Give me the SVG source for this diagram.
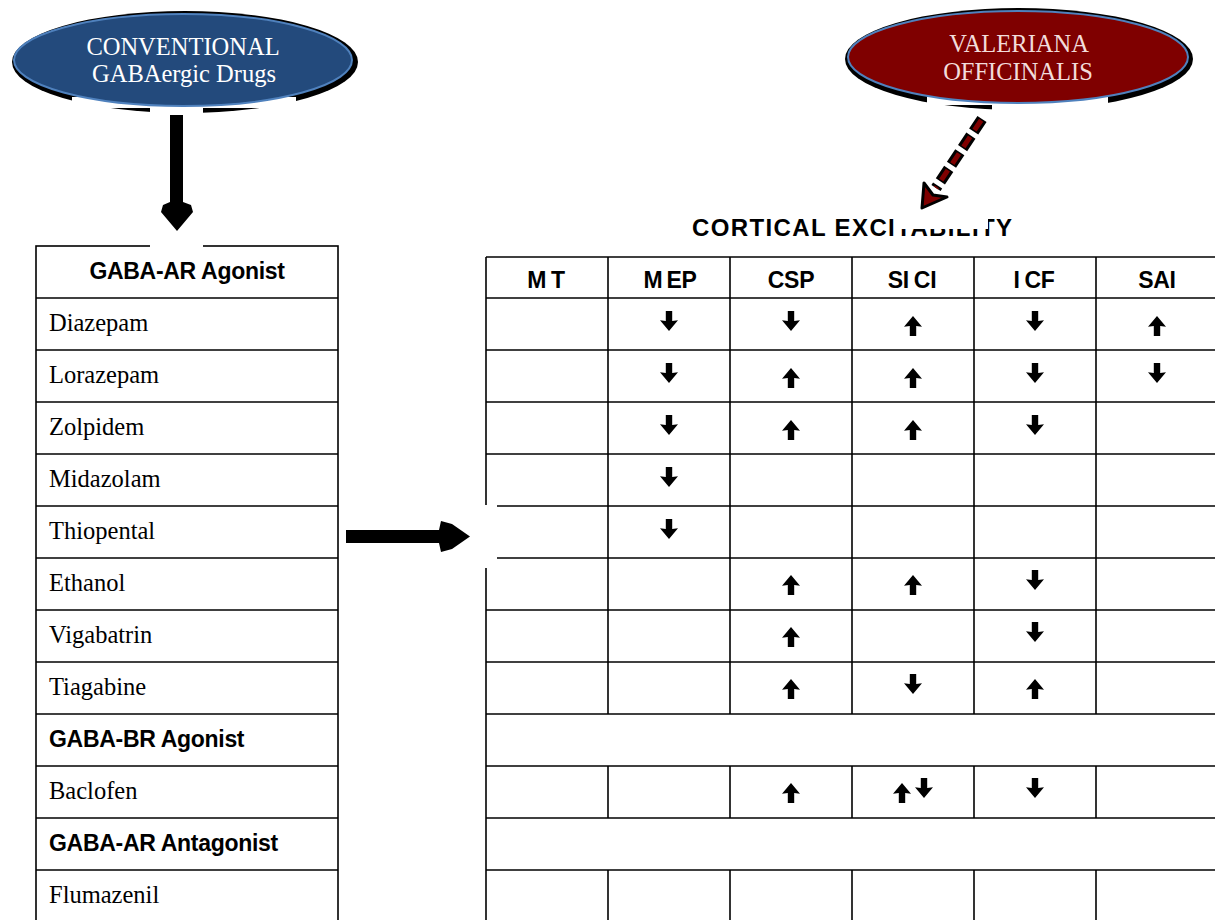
<svg xmlns="http://www.w3.org/2000/svg" xmlns:xlink="http://www.w3.org/1999/xlink" width="1215" height="920" viewBox="0 0 1215 920">
<style>
.serif{font-family:"Liberation Serif","Times New Roman",serif;font-size:24.5px;fill:#000}
.bold{font-family:"Liberation Sans",Arial,sans-serif;font-weight:bold;font-size:23px;letter-spacing:-0.3px;fill:#000}
.hdr{font-family:"Liberation Sans",Arial,sans-serif;font-weight:bold;font-size:23px;letter-spacing:-0.3px;fill:#000;text-anchor:middle}
.grid{stroke:#000;stroke-width:1.6;fill:none}
.etext{font-family:"Liberation Serif","Times New Roman",serif;font-size:24.5px;text-anchor:middle}
.ar{fill:#000}
</style>
<defs>
<path id="up" d="M-3.2,10 L3.2,10 L3.2,0 L9,0.8 L0,-10 L-9,0.8 L-3.2,0 Z"/>
<path id="dn" d="M-3.2,-10 L3.2,-10 L3.2,0 L9,-0.8 L0,10 L-9,-0.8 L-3.2,0 Z"/>
</defs>
<rect width="1215" height="920" fill="#fff"/>

<g id="conventional">
<ellipse cx="185" cy="62" rx="173" ry="51" fill="#000"/>
<rect x="72" y="97" width="224" height="11" fill="#fff"/>
<rect x="150" y="97" width="53" height="22" fill="#fff"/>
<ellipse cx="183" cy="60" rx="169" ry="46" fill="#234a7c" stroke="#4f81bd" stroke-width="2"/>
<text class="etext" x="183" y="55" fill="#fff">CONVENTIONAL</text>
<text class="etext" x="184" y="82" fill="#fff">GABAergic Drugs</text>
</g>

<g id="valeriana">
<ellipse cx="1019" cy="59" rx="174" ry="51" fill="#000"/>
<rect x="927" y="97" width="181" height="8" fill="#fff"/>
<rect x="992" y="97" width="116" height="15" fill="#fff"/>
<ellipse cx="1018" cy="57" rx="170" ry="46" fill="#7f0000" stroke="#4f81bd" stroke-width="2"/>
<text class="etext" x="1019" y="52" fill="#f2dcdb">VALERIANA</text>
<text class="etext" x="1018" y="80" fill="#f2dcdb">OFFICINALIS</text>
</g>

<g id="title">
<text x="692" y="236" font-family="Liberation Sans, Arial, sans-serif" font-weight="bold" font-size="24" textLength="320" lengthAdjust="spacing">CORTICAL EXCITABILITY</text>
<rect x="894" y="210" width="94" height="19" fill="#fff"/>
</g>

<g id="drug-table">
<rect class="grid" x="36" y="246" width="302" height="690"/>
<rect x="150" y="238" width="53" height="12" fill="#fff"/>
<g class="grid">
<line x1="36" y1="298" x2="338" y2="298"/>
<line x1="36" y1="350" x2="338" y2="350"/>
<line x1="36" y1="402" x2="338" y2="402"/>
<line x1="36" y1="454" x2="338" y2="454"/>
<line x1="36" y1="506" x2="338" y2="506"/>
<line x1="36" y1="558" x2="338" y2="558"/>
<line x1="36" y1="610" x2="338" y2="610"/>
<line x1="36" y1="662" x2="338" y2="662"/>
<line x1="36" y1="714" x2="338" y2="714"/>
<line x1="36" y1="766" x2="338" y2="766"/>
<line x1="36" y1="818" x2="338" y2="818"/>
<line x1="36" y1="870" x2="338" y2="870"/>
</g>
<text class="bold" x="187" y="279" text-anchor="middle">GABA-AR Agonist</text>
<text class="serif" x="49" y="331">Diazepam</text>
<text class="serif" x="49" y="383">Lorazepam</text>
<text class="serif" x="49" y="435">Zolpidem</text>
<text class="serif" x="49" y="487">Midazolam</text>
<text class="serif" x="49" y="539">Thiopental</text>
<text class="serif" x="49" y="591">Ethanol</text>
<text class="serif" x="49" y="643">Vigabatrin</text>
<text class="serif" x="49" y="695">Tiagabine</text>
<text class="bold" x="49" y="747">GABA-BR Agonist</text>
<text class="serif" x="49" y="799">Baclofen</text>
<text class="bold" x="49" y="851">GABA-AR Antagonist</text>
<text class="serif" x="49" y="903">Flumazenil</text>
</g>

<g id="excitability-table">
<g class="grid">
<line x1="486" y1="257" x2="486" y2="920"/>
<line x1="486" y1="257" x2="1215" y2="257"/>
<line x1="486" y1="298" x2="1215" y2="298"/>
<line x1="486" y1="350" x2="1215" y2="350"/>
<line x1="486" y1="402" x2="1215" y2="402"/>
<line x1="486" y1="454" x2="1215" y2="454"/>
<line x1="486" y1="506" x2="1215" y2="506"/>
<line x1="486" y1="558" x2="1215" y2="558"/>
<line x1="486" y1="610" x2="1215" y2="610"/>
<line x1="486" y1="662" x2="1215" y2="662"/>
<line x1="486" y1="714" x2="1215" y2="714"/>
<line x1="486" y1="766" x2="1215" y2="766"/>
<line x1="486" y1="818" x2="1215" y2="818"/>
<line x1="486" y1="870" x2="1215" y2="870"/>
<line x1="608" y1="257" x2="608" y2="714"/><line x1="608" y1="766" x2="608" y2="818"/><line x1="608" y1="870" x2="608" y2="920"/>
<line x1="730" y1="257" x2="730" y2="714"/><line x1="730" y1="766" x2="730" y2="818"/><line x1="730" y1="870" x2="730" y2="920"/>
<line x1="852" y1="257" x2="852" y2="714"/><line x1="852" y1="766" x2="852" y2="818"/><line x1="852" y1="870" x2="852" y2="920"/>
<line x1="974" y1="257" x2="974" y2="714"/><line x1="974" y1="766" x2="974" y2="818"/><line x1="974" y1="870" x2="974" y2="920"/>
<line x1="1096" y1="257" x2="1096" y2="714"/><line x1="1096" y1="766" x2="1096" y2="818"/><line x1="1096" y1="870" x2="1096" y2="920"/>
</g>
<rect x="470" y="505" width="27" height="63" fill="#fff"/>
<text class="hdr" x="546" y="288">M<tspan dx="5">T</tspan></text>
<text class="hdr" x="670" y="288">M<tspan dx="4">EP</tspan></text>
<text class="hdr" x="791" y="288">CSP</text>
<text class="hdr" x="912" y="288">SI<tspan dx="5">CI</tspan></text>
<text class="hdr" x="1034" y="288">I<tspan dx="5">CF</tspan></text>
<text class="hdr" x="1157" y="288">SAI</text>
<g class="ar">
<use href="#dn" x="669" y="321"/><use href="#dn" x="791" y="321"/><use href="#up" x="913" y="326"/><use href="#dn" x="1035" y="321"/><use href="#up" x="1157" y="326"/>
<use href="#dn" x="669" y="373"/><use href="#up" x="791" y="378"/><use href="#up" x="913" y="378"/><use href="#dn" x="1035" y="373"/><use href="#dn" x="1157" y="373"/>
<use href="#dn" x="669" y="425"/><use href="#up" x="791" y="430"/><use href="#up" x="913" y="430"/><use href="#dn" x="1035" y="425"/>
<use href="#dn" x="669" y="477"/>
<use href="#dn" x="669" y="529"/>
<use href="#up" x="791" y="585"/><use href="#up" x="913" y="585"/><use href="#dn" x="1035" y="580"/>
<use href="#up" x="791" y="637"/><use href="#dn" x="1035" y="632"/>
<use href="#up" x="791" y="689"/><use href="#dn" x="913" y="684"/><use href="#up" x="1035" y="689"/>
<use href="#up" x="791" y="793"/><use href="#up" x="902" y="793"/><use href="#dn" x="924" y="788"/><use href="#dn" x="1035" y="788"/>
</g>
</g>

<g id="connectors">
<polygon fill="#000" points="170,115 183,115 183,202 191,205 193,212 177,231 161,212 163,205 170,202"/>
<polygon fill="#000" points="346,530 439,530 441,521 452,524 470,536.5 452,549 441,552 439,543 346,543"/>
<path d="M982,119 L936,188" stroke="#000" stroke-width="11" stroke-dasharray="15 5" fill="none"/>
<path d="M982,119 L936,188" stroke="#7f0000" stroke-width="5" stroke-dasharray="12 8" stroke-dashoffset="-1.5" fill="none"/>
<polygon points="922,208 947,197 933,195 924,183" fill="#7f0000" stroke="#000" stroke-width="3" stroke-linejoin="round"/>
</g>
</svg>
